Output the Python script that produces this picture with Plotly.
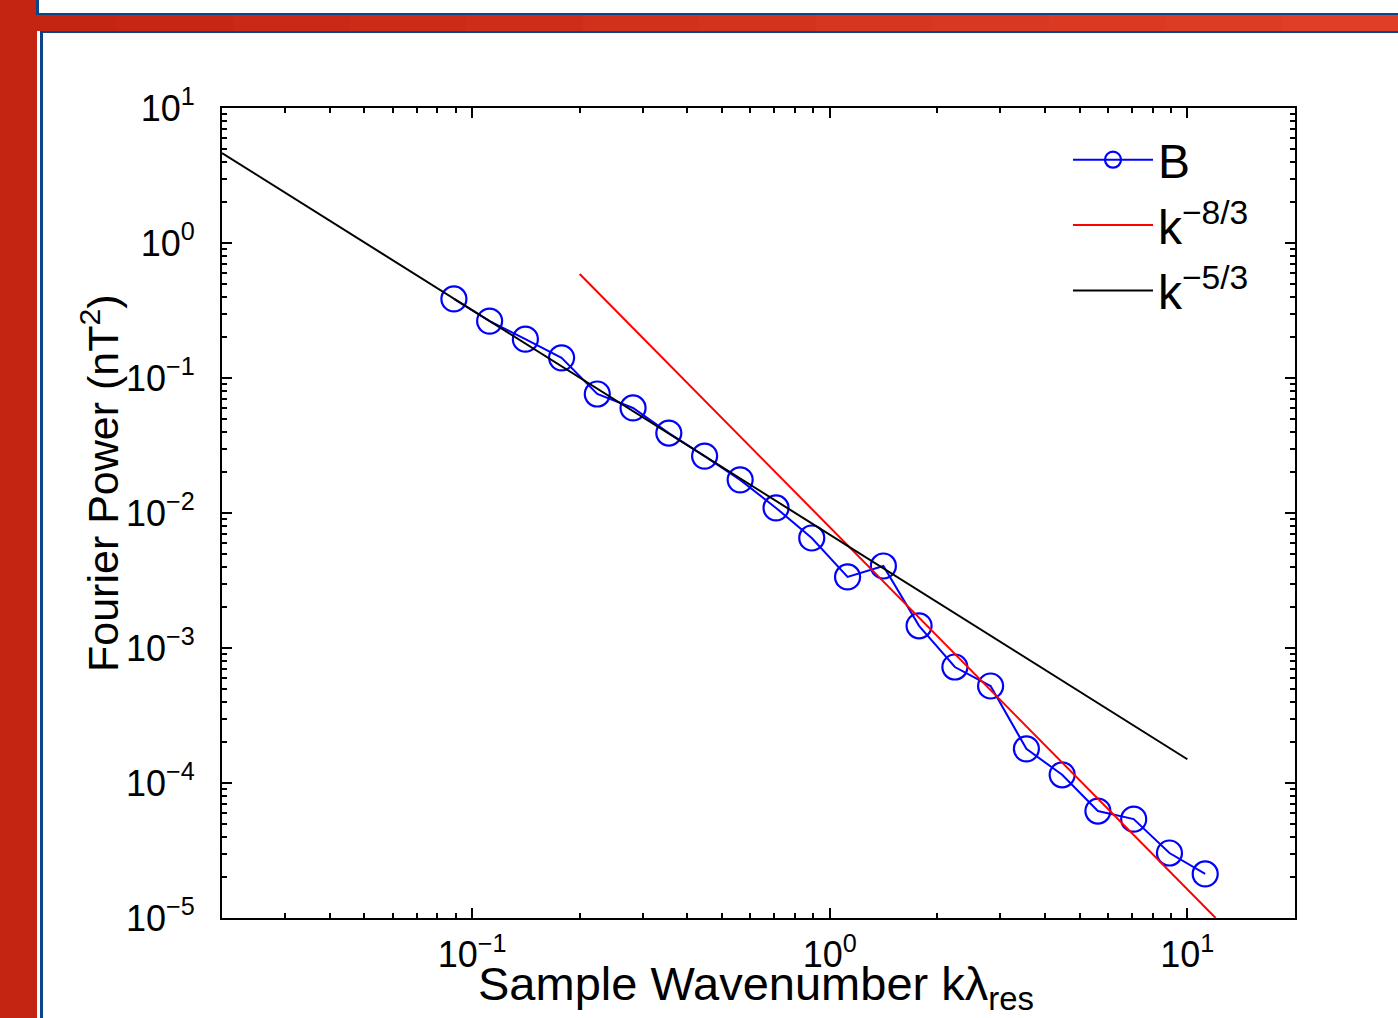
import plotly.graph_objects as go

# ---- data ----
k_vals = [0.089, 0.112, 0.141, 0.178, 0.224, 0.282, 0.355, 0.447, 0.562, 0.708, 0.891,
          1.122, 1.413, 1.778, 2.239, 2.818, 3.548, 4.467, 5.623, 7.079, 8.913, 11.22]
B_power = [0.385, 0.264, 0.194, 0.141, 0.0761, 0.0600, 0.0391, 0.0264, 0.0176, 0.0109, 0.00653,
           0.00336, 0.00405, 0.00146, 0.000723, 0.000523, 0.000179, 0.000115, 6.2e-5, 5.4e-5,
           3.03e-5, 2.12e-5]
red_k = [0.2, 12.0]          # k^-8/3 reference line endpoints
red_p = [0.59, 1.0e-5]
black_k = [0.02, 10.0]       # k^-5/3 reference line endpoints
black_p = [4.64, 1.5e-4]

y_tickvals = [1e-5, 1e-4, 1e-3, 1e-2, 1e-1, 1, 10]
y_ticktext = ["10<sup>\u22125</sup>", "10<sup>\u22124</sup>", "10<sup>\u22123</sup>",
              "10<sup>\u22122</sup>", "10<sup>\u22121</sup>", "10<sup>0</sup>", "10<sup>1</sup>"]
x_tickvals = [0.1, 1, 10]
x_ticktext = ["10<sup>\u22121</sup>", "10<sup>0</sup>", "10<sup>1</sup>"]
x_minor = [0.02, 0.03, 0.04, 0.05, 0.06, 0.07, 0.08, 0.09,
           0.2, 0.3, 0.4, 0.5, 0.6, 0.7, 0.8, 0.9,
           2, 3, 4, 5, 6, 7, 8, 9, 20]
y_minor = [m * d for d in [1e-5, 1e-4, 1e-3, 1e-2, 1e-1, 1] for m in [2, 3, 4, 5, 6, 7, 8, 9]]

FONT = "Liberation Sans, Arial, Helvetica, sans-serif"
W, H = 1398, 1018
L, R, T, B = 222, 1295, 108, 918

def px(x):
    return (x - L) / (R - L)

def py(y):
    return (B - y) / (B - T)

fig = go.Figure()
fig.add_trace(go.Scatter(x=k_vals, y=B_power, mode="lines+markers", name="B",
                         line=dict(color="#0000FF", width=2),
                         marker=dict(symbol="circle-open", size=25, color="#0000FF",
                                     line=dict(width=2.2, color="#0000FF"))))
fig.add_trace(go.Scatter(x=red_k, y=red_p, mode="lines", name="k<sup>\u22128/3</sup>",
                         line=dict(color="#FF0000", width=2)))
fig.add_trace(go.Scatter(x=black_k, y=black_p, mode="lines", name="k<sup>\u22125/3</sup>",
                         line=dict(color="#000000", width=2)))

axis_common = dict(type="log", showgrid=False, zeroline=False, showline=True,
                   linecolor="black", linewidth=2, mirror="ticks", ticks="inside",
                   ticklen=10, tickwidth=1.5, tickcolor="black",
                   tickfont=dict(family=FONT, size=36, color="black"))

fig.update_xaxes(**axis_common, range=[-1.699, 1.301], tickmode="array",
                 tickvals=x_tickvals, ticktext=x_ticktext, ticklabelstandoff=4,
                 minor=dict(ticks="inside", ticklen=5, tickwidth=1.5, tickcolor="black",
                            showgrid=False, tickmode="array", tickvals=x_minor))
fig.update_yaxes(**axis_common, range=[-5, 1], tickmode="array",
                 tickvals=y_tickvals, ticktext=y_ticktext, ticklabelstandoff=18,
                 minor=dict(ticks="inside", ticklen=5, tickwidth=1.5, tickcolor="black",
                            showgrid=False, tickmode="array", tickvals=y_minor))

# decorative frame (red bars with blue edges)
shapes = []
red_left = "#C42412"
blue = "#0B4588"
shapes.append(dict(type="rect", xref="paper", yref="paper", x0=px(0), x1=px(37),
                   y0=py(W * 2), y1=py(0), fillcolor=red_left, line=dict(width=0), layer="above"))
nseg = 12
c0 = (0xC4, 0x24, 0x12)
c1 = (0xE0, 0x3E, 0x26)
for i in range(nseg):
    t = i / (nseg - 1)
    col = "rgb(%d,%d,%d)" % tuple(round(a + (b - a) * t) for a, b in zip(c0, c1))
    shapes.append(dict(type="rect", xref="paper", yref="paper",
                       x0=px(i * W / nseg), x1=px((i + 1) * W / nseg + 1),
                       y0=py(31), y1=py(15), fillcolor=col, line=dict(width=0), layer="above"))
# blue edges
shapes.append(dict(type="rect", xref="paper", yref="paper", x0=px(36), x1=px(39),
                   y0=py(15), y1=py(0), fillcolor=blue, line=dict(width=0), layer="above"))
shapes.append(dict(type="rect", xref="paper", yref="paper", x0=px(36), x1=px(W),
                   y0=py(15), y1=py(13), fillcolor=blue, line=dict(width=0), layer="above"))
shapes.append(dict(type="rect", xref="paper", yref="paper", x0=px(40), x1=px(43),
                   y0=py(H + 5), y1=py(31), fillcolor=blue, line=dict(width=0), layer="above"))
shapes.append(dict(type="rect", xref="paper", yref="paper", x0=px(40), x1=px(W),
                   y0=py(33), y1=py(31), fillcolor=blue, line=dict(width=0), layer="above"))

annotations = [
    dict(text="Sample Wavenumber k\u03bb<sub>res</sub>", xref="paper", yref="paper",
         x=px(756), y=py(987), xanchor="center", yanchor="middle", showarrow=False,
         font=dict(family=FONT, size=47, color="black")),
    dict(text="Fourier Power (nT<sup>2</sup>)", xref="paper", yref="paper",
         x=px(100), y=py(483), xanchor="center", yanchor="middle", showarrow=False,
         textangle=-90, font=dict(family=FONT, size=43, color="black")),
]

fig.update_layout(
    width=W, height=H,
    margin=dict(l=L, r=W - R, t=T, b=H - B, pad=0),
    paper_bgcolor="white", plot_bgcolor="white",
    showlegend=True,
    legend=dict(x=px(1068), y=py(122), xanchor="left", yanchor="top",
                bgcolor="rgba(0,0,0,0)", borderwidth=0,
                font=dict(family=FONT, size=48, color="black"),
                itemwidth=80, tracegroupgap=0),
    shapes=shapes,
    annotations=annotations,
)

fig.write_html("out.html")
